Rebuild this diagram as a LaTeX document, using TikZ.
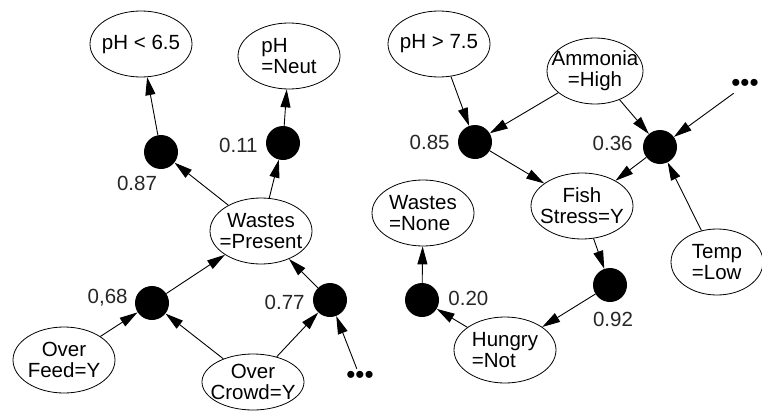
\documentclass[tikz,border=0pt]{standalone}
\usepackage{fontspec}
\setmainfont{Liberation Sans}
\usetikzlibrary{arrows.meta,positioning,shapes.geometric}

\begin{document}
\begin{tikzpicture}
[x=1pt, y=-1pt, font=\fontsize{20.5}{21}\selectfont,
>={Triangle[length=18pt,width=10pt]},
% STYLES
every node/.style={node distance=6pt},
% The state style is used for the variable=value ovals
state/.style={ellipse, draw, line width=0.8pt, inner xsep=-12pt, inner ysep=0pt, minimum width=102pt, minimum height=66pt, align=center},
% Black dots join the causes of one effect
junction/.style={circle, fill=black, minimum size=34pt, inner sep=0pt},
prob/.style={inner sep=2pt, text=black!85},
more/.style={inner sep=2pt, font=\fontsize{26}{26}\selectfont}]

\useasboundingbox (0,0) rectangle (762,412);

% Left network
\node [state] (ph-low) at (141,44) {pH < 6.5};
\node [state, align=left] (ph-neut) at (289,56) {pH\\=Neut};
\node [state] (wastes-present) at (261,231) {Wastes\\=Present};
\node [state] (over-feed) at (64,360) {Over\\Feed=Y};
\node [state, minimum height=56pt] (over-crowd) at (253,382) {Over\\Crowd=Y};
\node [more] (more-crowd) at (360,377) {•••};

\node [junction] (j-low) at (161,152) {};
\node [junction] (j-neut) at (283,143) {};
\node [junction] (j-feed) at (152,303) {};
\node [junction] (j-crowd) at (330,300) {};

\node [prob, below=5pt of j-low, xshift=-24pt] (p-low) {0.87};
\node [prob, left=6pt of j-neut, yshift=-2pt] (p-neut) {0.11};
\node [prob, left=5pt of j-feed, yshift=5pt] (p-feed) {0,68};
\node [prob, left=6pt of j-crowd, yshift=-2pt] (p-crowd) {0.77};

% Right network
\node [state] (ph-high) at (439,44) {pH > 7.5};
\node [state, minimum width=96pt] (ammonia) at (595,71) {Ammonia\\=High};
\node [more] (more-temp) at (745,85) {•••};
\node [state] (fish) at (582,206) {Fish\\Stress=Y};
\node [state, align=left] (wastes-none) at (423,213) {Wastes\\=None};
\node [state, align=left, minimum width=92pt] (temp) at (717,262) {Temp\\=Low};
\node [state, align=left] (hungry) at (505,350) {Hungry\\=Not};

\node [junction] (j-fish) at (475,142) {};
\node [junction] (j-temp) at (660,147) {};
\node [junction] (j-hungry) at (610,285) {};
\node [junction] (j-none) at (422,300) {};

\node [prob, left=6pt of j-fish] (p-fish) {0.85};
\node [prob, left=8pt of j-temp, yshift=4pt] (p-temp) {0.36};
\node [prob, below=8pt of j-hungry, xshift=3pt] (p-hungry) {0.92};
\node [prob, right=7pt of j-none, yshift=2pt] (p-none) {0.20};

%%%%%%%%%%%%%%%%

\path[->, line width=0.9pt]
(j-low) edge (ph-low)
(j-neut) edge (ph-neut)
(wastes-present) edge (j-low)
(wastes-present) edge (j-neut)
(j-feed) edge (wastes-present)
(j-crowd) edge (wastes-present)
(over-feed) edge (j-feed)
(over-crowd) edge (j-feed)
(over-crowd) edge (j-crowd)
(more-crowd) edge (j-crowd)
(ph-high) edge (j-fish)
(ammonia) edge (j-fish)
(ammonia) edge (j-temp)
(more-temp) edge (j-temp)
(temp) edge (j-temp)
(j-fish) edge (fish)
(j-temp) edge (fish)
(fish) edge (j-hungry)
(j-hungry) edge (hungry)
(hungry) edge (j-none)
(j-none) edge (wastes-none);

\end{tikzpicture}
\end{document}
